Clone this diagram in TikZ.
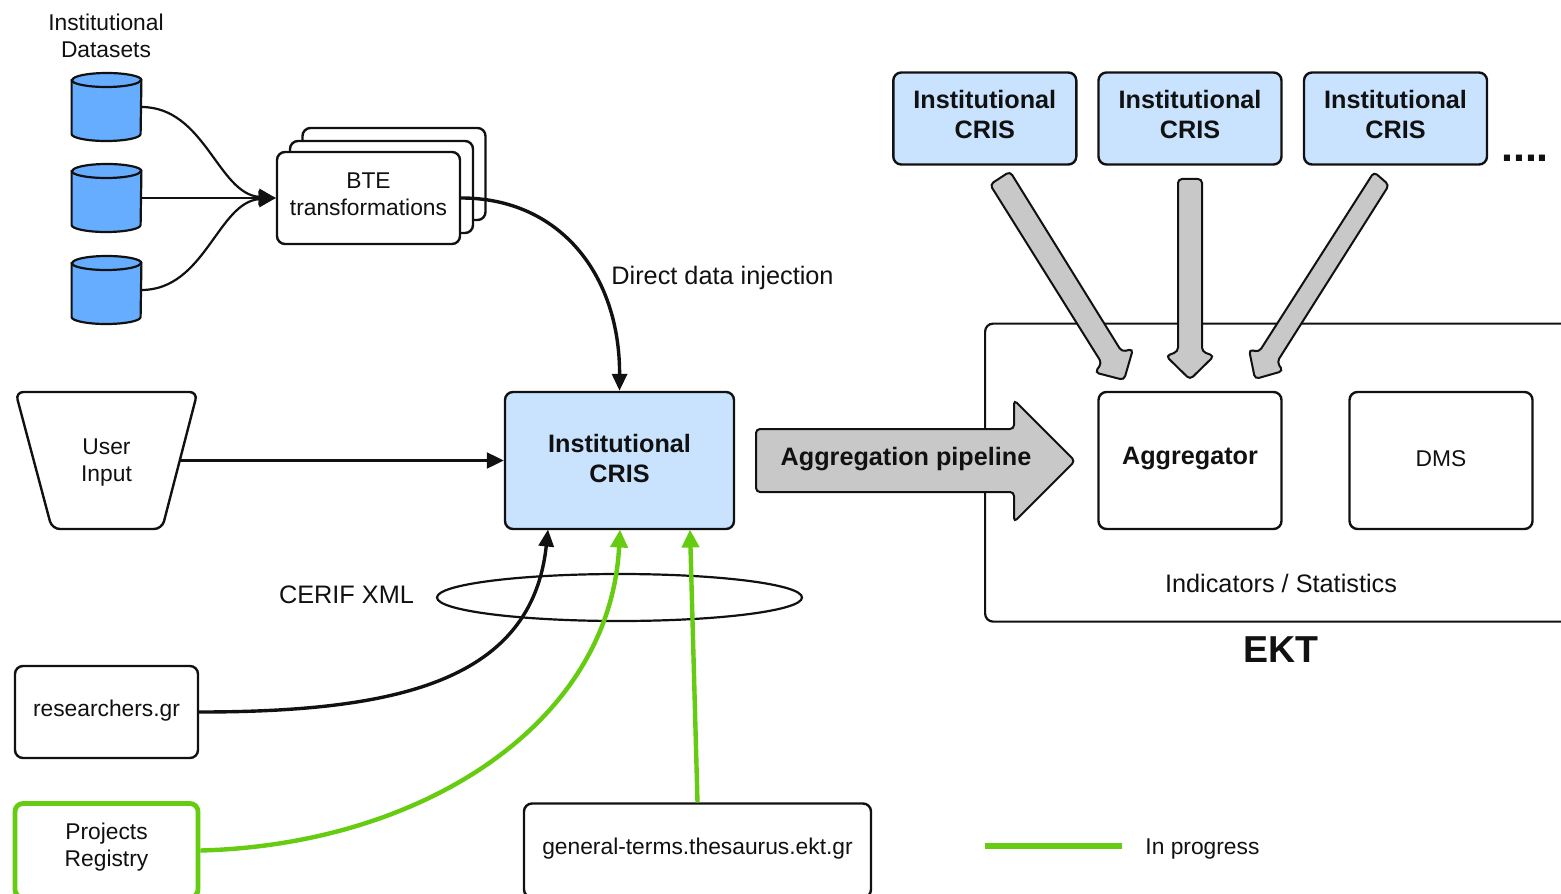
\documentclass[tikz,border=0pt]{standalone}
\usepackage{fontspec}
\setmainfont{Liberation Sans}
\usetikzlibrary{arrows.meta,shapes.geometric}
\definecolor{crisblue}{HTML}{C9E3FF}
\definecolor{dbblue}{HTML}{66ADFF}
\definecolor{arrowgrey}{HTML}{C8C8C8}
\definecolor{inprogress}{HTML}{66CC11}
\definecolor{ink}{HTML}{111111}
\newcommand{\regfont}{\fontsize{11.4}{13.5}\selectfont}
\newcommand{\widefont}{\fontsize{12.65}{15}\selectfont}
\newcommand{\boldfont}{\fontsize{12.6}{15}\selectfont\bfseries}
\tikzset{
  x=0.5pt,y=-0.5pt,
  roundbox/.style={draw=ink,line width=1.2pt,rounded corners=4pt,fill=white,inner sep=0pt,minimum width=91.5pt,minimum height=46pt},
  regtext/.style={font=\regfont,align=center,text=ink,inner sep=0pt},
  widetext/.style={font=\widefont,align=center,text=ink,inner sep=0pt},
  boldtext/.style={font=\boldfont,align=center,text=ink,inner sep=0pt},
  link/.style={draw=ink,line width=1.1pt,-{Triangle[length=8.5pt,width=8pt]}},
  heavylink/.style={draw=ink,line width=1.7pt,-{Triangle[length=8.5pt,width=7.5pt]}},
  greenlink/.style={draw=inprogress,line width=2.2pt,-{Triangle[length=9pt,width=8.5pt]}},
  bulk/.style={draw=ink,line width=1pt,fill=arrowgrey,rounded corners=2pt},
  dbshape/.style={draw=none,inner sep=0pt,minimum width=34.5pt,minimum height=34pt},
}
\newcommand{\cyl}[1]{%
  \draw[ink,line width=1.1pt,fill=dbblue]
    ([yshift=13.5pt]#1.west) -- ([yshift=-13.5pt]#1.west)
    arc[start angle=180,end angle=360,x radius=17.25pt,y radius=3.5pt]
    -- ([yshift=13.5pt]#1.east)
    arc[start angle=0,end angle=180,x radius=17.25pt,y radius=3.5pt] -- cycle;
  \draw[ink,line width=1.1pt]
    ([yshift=13.5pt]#1.west)
    arc[start angle=180,end angle=360,x radius=17.25pt,y radius=3.5pt];
}
\begin{document}
\begin{tikzpicture}
\useasboundingbox (0,0) rectangle (1561,893);
\fill[white] (0,0) rectangle (1561,893);

% Datasets
\node[regtext] (dstitle) at (106,35.5) {Institutional\\Datasets};
\node[dbshape] (db1) at (106.5,107) {};
\node[dbshape] (db2) at (106.5,198) {};
\node[dbshape] (db3) at (106.5,290) {};
\cyl{db1}\cyl{db2}\cyl{db3}

% BTE stack
\node[roundbox] (bte3) at (394,174) {};
\node[roundbox] (bte2) at (381.5,187) {};
\node[roundbox,label={[regtext,yshift=2pt]center:BTE\\transformations}] (bte1) at (368.5,198) {};
\coordinate (btein) at (bte1.west);

\draw[link] (db1.east) .. controls (205,107) and (218,194) .. (btein);
\draw[link] (db2.east) -- (btein);
\draw[link] (db3.east) .. controls (205,290) and (218,202) .. (btein);

% Top CRIS boxes
\node[roundbox,fill=crisblue,label={[boldtext,yshift=2.2pt]center:Institutional\\CRIS}] (c1) at (984.8,118.5) {};
\node[roundbox,fill=crisblue,label={[boldtext,yshift=2.2pt]center:Institutional\\CRIS}] (c2) at (1190,118.5) {};
\node[roundbox,fill=crisblue,label={[boldtext,yshift=2.2pt]center:Institutional\\CRIS}] (c3) at (1395.5,118.5) {};
\node[font=\fontsize{21.5}{21.5}\selectfont\bfseries,text=ink,inner sep=0pt,anchor=base] (more) at (1525,161.5) {....};

% EKT
\node[draw=ink,line width=1.1pt,rounded corners=4pt,fill=white,anchor=north west,inner sep=0pt,minimum width=300pt,minimum height=149pt] (ekt) at (984,322.5) {};
\node[widetext] (stats) at (1281,583) {Indicators / Statistics};
\node[font=\fontsize{18.75}{20}\selectfont\bfseries,text=ink,inner sep=0pt] (ekttitle) at (1281,650) {EKT};
\node[roundbox,minimum height=68.5pt,label={[boldtext,yshift=1.2pt]center:Aggregator}] (agg) at (1190,460.5) {};
\node[roundbox,minimum height=68.5pt,label={[regtext,yshift=1pt]center:DMS}] (dms) at (1441,460.5) {};

% Feeding arrows
\draw[bulk] (1010,171.5) -- (990,184.5) -- (1101.7,363) -- (1095,372.5) -- (1124,380) -- (1133,349) -- (1121.7,351.7) -- cycle;
\draw[bulk] (1178,179) -- (1178,351.5) -- (1166,356) -- (1190,379.5) -- (1214,356) -- (1202,351.5) -- (1202,179) -- cycle;
\draw[bulk] (1374,172) -- (1389,185) -- (1277,362) -- (1283,371) -- (1255,379) -- (1249,349.5) -- (1259,352) -- cycle;

% Aggregation pipeline arrow
\draw[bulk] (756,429) -- (1014,429) -- (1014,400) -- (1075,461) -- (1014,522) -- (1014,492) -- (756,492) -- cycle;
\node[boldtext] (pipeline) at (906,459) {Aggregation pipeline};

% Main CRIS
\node[roundbox,fill=crisblue,minimum width=114.5pt,minimum height=68.5pt,label={[boldtext,yshift=1.2pt]center:Institutional\\CRIS}] (cris) at (619.5,460.5) {};
\coordinate (crisA) at (548,529.5);
\coordinate (crisB) at (620,529.5);
\coordinate (crisC) at (690,529.5);

\draw[heavylink] (bte1.east) .. controls (560,198) and (620,275) .. (cris.north);
\node[widetext] (direct) at (722.5,278) {Direct data injection};

% User input
\draw[ink,line width=1.2pt,rounded corners=4pt,fill=white] (15.5,392) -- (197.5,392) -- (162,529) -- (52,529) -- cycle;
\node[regtext] (input) at (106.5,462.5) {User\\Input};
\coordinate (inputout) at (179.5,460.5);
\draw[link] (inputout) -- (cris.west);

% CERIF
\node[widetext] (cerif) at (346.5,595) {CERIF XML};
\node[ellipse,draw=ink,line width=1.1pt,inner sep=0pt,minimum width=182.5pt,minimum height=23.5pt] (cerifring) at (619.5,597.5) {};

% Sources
\node[roundbox,label={[regtext,yshift=0.5pt]center:researchers.gr}] (res) at (106.5,712) {};
\node[roundbox,draw=inprogress,line width=2.4pt,minimum height=47pt,label={[regtext,yshift=1.7pt]center:Projects\\Registry}] (proj) at (106.5,850.5) {};
\node[roundbox,minimum width=173.5pt,minimum height=47pt,label={[regtext,yshift=1pt]center:general-terms.thesaurus.ekt.gr}] (terms) at (697.5,850.5) {};

\draw[heavylink] (res.east) .. controls (400,712) and (532,680) .. (crisA);
\draw[greenlink] (proj.east) .. controls (420,845) and (610,725) .. (crisB);
\draw[greenlink] (terms.north) -- (crisC);

% Legend
\coordinate (legA) at (985,846);
\coordinate (legB) at (1122,846);
\draw[inprogress,line width=2.6pt] (legA) -- (legB);
\node[regtext,anchor=west] (legtext) at (1145,849) {In progress};
\end{tikzpicture}
\end{document}
